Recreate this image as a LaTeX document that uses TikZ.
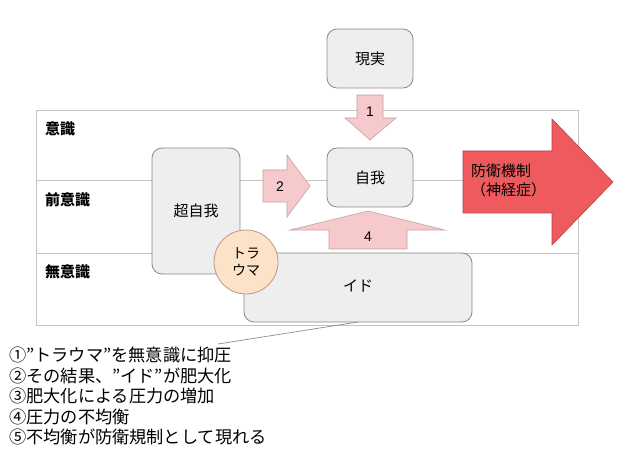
\documentclass[tikz,border=0pt]{standalone}
\usepackage{fontspec}
\setmainfont{Noto Sans CJK JP}
\newfontfamily\numfont{Liberation Sans}
\definecolor{boxfill}{HTML}{EEEEEE}
\definecolor{boxdraw}{HTML}{8A8A8A}
\definecolor{pinkfill}{HTML}{F6C9CC}
\definecolor{pinkdraw}{HTML}{C9A0A0}
\definecolor{redfill}{HTML}{EE5A5E}
\definecolor{reddraw}{HTML}{B04448}
\definecolor{circfill}{HTML}{FCE3C8}
\definecolor{circdraw}{HTML}{B89A80}
\definecolor{linegray}{HTML}{C4C4C4}
\begin{document}
\begin{tikzpicture}[x=1pt,y=-1pt,
  gbox/.style={draw=boxdraw,fill=boxfill,rounded corners=10pt,line width=0.8pt},
  pinkarrow/.style={draw=pinkdraw,fill=pinkfill,line width=0.6pt,line join=miter},
  lvl/.style={font=\fontsize{15}{18}\selectfont\bfseries,anchor=west,inner sep=0pt},
  btxt/.style={font=\fontsize{15}{18}\selectfont,inner sep=0pt},
  num/.style={font=\fontsize{14}{16}\selectfont\numfont,inner sep=0pt}]
\useasboundingbox (0,0) rectangle (640,449);
% outer frame and levels
\draw[linegray,line width=0.8pt] (36,110) rectangle (578,325);
\draw[linegray,line width=0.8pt] (36,180) -- (578,180);
\draw[linegray,line width=0.8pt] (36,253) -- (578,253);
\node[lvl] (l1) at (45,129) {意識};
\node[lvl] (l2) at (45,200) {前意識};
\node[lvl] (l3) at (45,272) {無意識};
% boxes
\draw[gbox] (327,29) rectangle (413,88);
\node[btxt] (real) at (370,58.5) {現実};
\draw[gbox] (327,148) rectangle (413,207);
\node[btxt] (ego) at (370,177.5) {自我};
\draw[gbox] (152,148) rectangle (240,274);
\node[btxt] (sup) at (196,211) {超自我};
\draw[gbox] (244,253) rectangle (472,322);
\node[btxt] (id) at (358,286) {イド};
\node[draw=circdraw,fill=circfill,circle,minimum size=64pt,inner sep=0pt,line width=0.8pt,
  align=center,font=\fontsize{14}{17}\selectfont] (trauma) at (246,262) {トラ\\ウマ};
% arrow 1
\draw[pinkarrow] (357,95) -- (383,95) -- (383,118) -- (396,118) -- (370,140) -- (345,118) -- (357,118) -- cycle;
\node[num] (n1) at (370,112) {1};
% arrow 2
\draw[pinkarrow] (263,170) -- (287,170) -- (287,155) -- (310,186) -- (287,217) -- (287,202) -- (263,202) -- cycle;
\node[num] (n2) at (280,187) {2};
% arrow 4
\draw[pinkarrow] (329,249) -- (329,230) -- (290,230) -- (368,211) -- (445,230) -- (407,230) -- (407,249) -- cycle;
\node[num] (n4) at (368,237) {4};
% big arrow
\draw[draw=reddraw,fill=redfill,line width=0.6pt] (463,151) -- (552,151) -- (552,119) -- (613,182) -- (552,245) -- (552,213) -- (463,213) -- cycle;
\node[font=\fontsize{15}{19}\selectfont,align=left,anchor=north west,inner sep=0pt] (def) at (471,164) {防衛機制\\（神経症）};
% notes
\node[font=\fontsize{17.2}{20.5}\selectfont,align=left,anchor=north west,inner sep=0pt] (notes) at (9,347)
{①"トラウマ"を無意識に抑圧\\②その結果、"イド"が肥大化\\③肥大化による圧力の増加\\④圧力の不均衡\\⑤不均衡が防衛規制として現れる};
\coordinate (idb) at (358,322);
\coordinate (nend) at (218,344);
\draw[boxdraw,line width=0.7pt] (idb) -- (nend);
\end{tikzpicture}
\end{document}
